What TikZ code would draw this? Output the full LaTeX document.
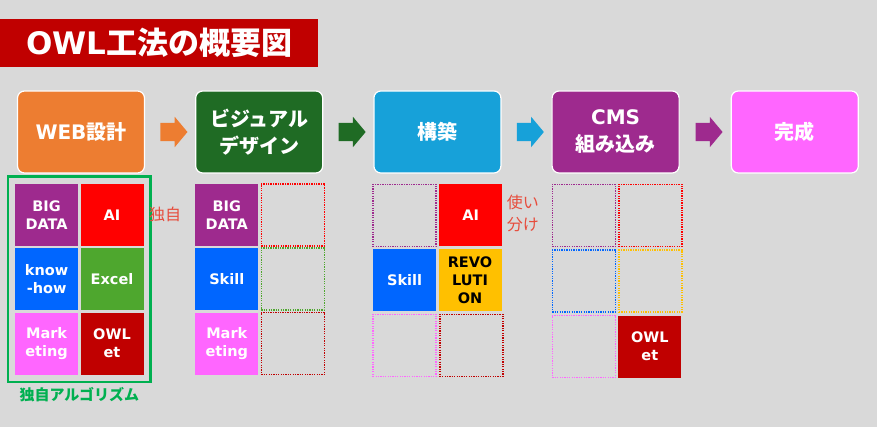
\documentclass[tikz,border=0pt]{standalone}
\usepackage{fontspec}
\setmainfont{DejaVu Sans}
\newfontfamily\jp{Noto Sans CJK JP}
\usetikzlibrary{positioning, shapes.arrows, fit, calc}
\definecolor{OBg}{HTML}{D9D9D9}
\definecolor{OTitle}{HTML}{C00000}
\definecolor{OOrange}{HTML}{ED7D31}
\definecolor{ODkGreen}{HTML}{1F6B24}
\definecolor{OSky}{HTML}{17A1D9}
\definecolor{OPurple}{HTML}{9E2A8E}
\definecolor{OPink}{HTML}{FF66FF}
\definecolor{ORed}{HTML}{FF0000}
\definecolor{OBlue}{HTML}{0066FF}
\definecolor{OGreen}{HTML}{4EA72E}
\definecolor{OOwl}{HTML}{C00000}
\definecolor{OYellow}{HTML}{FFC000}
\definecolor{OFrame}{HTML}{00B050}
\definecolor{ONote}{HTML}{E74C3C}

\begin{document}
\begin{tikzpicture}[
  x=1pt, y=-1pt,
  stagebox/.style={rectangle, rounded corners=7pt, draw=white, line width=1.2pt,
                   text=white, minimum width=127pt, minimum height=82pt,
                   align=center, inner sep=2pt,
                   font=\bfseries\fontsize{20}{27}\selectfont},
  cell/.style={rectangle, minimum width=63pt, minimum height=62pt, inner sep=0pt,
               align=center, text=white,
               font=\bfseries\fontsize{14.5}{18}\selectfont},
  empty/.style={cell, draw=#1, line width=1.6pt, dash pattern=on 1.3pt off 1.1pt},
  blockarrow/.style={single arrow, fill=#1, draw=none, minimum height=27pt,
                     inner xsep=0pt, inner ysep=9pt, single arrow tip angle=100,
                     single arrow head extend=6pt},
  note/.style={font=\bfseries\fontsize{15}{20}\selectfont, align=center},
  remark/.style={font=\fontsize{16}{22}\selectfont, align=center, text=ONote},
]
\fill[OBg] (0,0) rectangle (877,427);
\useasboundingbox (0,0) rectangle (877,427);

% ── title ────────────────────────────────────────────────────────────────
\node[anchor=north west, fill=OTitle, minimum width=318pt, minimum height=48pt,
      text=white, font=\bfseries\fontsize{31}{36}\selectfont] (title) at (0,19)
  {OWL{\jp 工法の概要図}};

% ── process stages ───────────────────────────────────────────────────────
\node[stagebox, fill=OOrange]                     (web)  at (81,132) {WEB{\jp 設計}};
\node[stagebox, fill=ODkGreen, right=50pt of web] (vis)  {\jp ビジュアル\\\jp デザイン};
\node[stagebox, fill=OSky,     right=50pt of vis] (bld)  {\jp 構築};
\node[stagebox, fill=OPurple,  right=50pt of bld] (cms)  {CMS\\\jp 組み込み};
\node[stagebox, fill=OPink,    right=51pt of cms] (done) {\jp 完成};

\node[blockarrow=OOrange]  (a1) at ($(web.east)!0.5!(vis.west)$) {};
\node[blockarrow=ODkGreen] (a2) at ($(vis.east)!0.5!(bld.west)$) {};
\node[blockarrow=OSky]     (a3) at ($(bld.east)!0.5!(cms.west)$) {};
\node[blockarrow=OPurple]  (a4) at ($(cms.east)!0.5!(done.west)$) {};

% ── WEB設計 grid ─────────────────────────────────────────────────────────
\node[cell, fill=OPurple, anchor=north west] (w11)
  at ([xshift=-2pt, yshift=-10pt]web.south west) {BIG\\DATA};
\node[cell, fill=ORed,    right=2pt of w11] (w12) {AI};
\node[cell, fill=OBlue,   below=2pt of w11] (w21) {know\\-how};
\node[cell, fill=OGreen,  right=2pt of w21] (w22) {Excel};
\node[cell, fill=OPink,   below=2pt of w21] (w31) {Mark\\eting};
\node[cell, fill=OOwl,    right=2pt of w31] (w32) {OWL\\et};

\node[draw=OFrame, line width=2.5pt, fit=(w11)(w32), inner sep=7pt] (frame) {};
\node[note, text=OFrame, below=1pt of frame] (algo) {\jp 独自アルゴリズム};
\node[remark, right=2pt of w12] (own) {\jp 独自};

% ── ビジュアルデザイン grid ──────────────────────────────────────────────
\node[cell, fill=OPurple, anchor=north west] (v11)
  at ([yshift=-10pt]vis.south west) {BIG\\DATA};
\node[empty=ORed,  right=2pt of v11] (v12) {};
\node[cell, fill=OBlue,   below=2pt of v11] (v21) {Skill};
\node[empty=OGreen, right=2pt of v21] (v22) {};
\node[cell, fill=OPink,   below=2pt of v21] (v31) {Mark\\eting};
\node[empty=OOwl,  right=2pt of v31] (v32) {};

% ── 構築 grid ────────────────────────────────────────────────────────────
\node[empty=OPurple, anchor=north west] (b11)
  at ([xshift=-1pt, yshift=-10pt]bld.south west) {};
\node[cell, fill=ORed, right=2pt of b11] (b12) {AI};
\node[cell, fill=OBlue, below=2pt of b11] (b21) {Skill};
\node[cell, fill=OYellow, text=black, right=2pt of b21] (b22) {REVO\\LUTI\\ON};
\node[empty=OPink, below=2pt of b21] (b31) {};
\node[empty=OOwl,  right=2pt of b31] (b32) {};
\node[remark, right=1pt of b12, yshift=2pt] (mix) {\jp 使い\\\jp 分け};

% ── CMS組み込み grid ─────────────────────────────────────────────────────
\node[empty=OPurple, anchor=north west] (c11)
  at ([yshift=-10pt]cms.south west) {};
\node[empty=ORed,    right=2pt of c11] (c12) {};
\node[empty=OBlue,   below=2pt of c11] (c21) {};
\node[empty=OYellow, right=2pt of c21] (c22) {};
\node[empty=OPink,   below=2pt of c21] (c31) {};
\node[cell, fill=OOwl, right=2pt of c31] (c32) {OWL\\et};

\end{tikzpicture}
\end{document}
